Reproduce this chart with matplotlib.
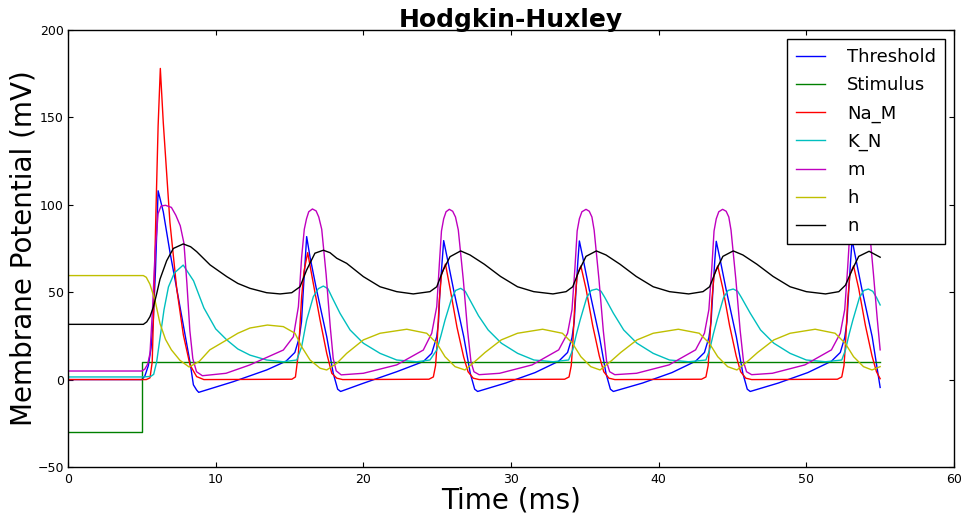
import matplotlib
matplotlib.use("Agg")
import matplotlib.pyplot as plt

# ---- data ----
t_thr = [0, 5.0, 5.2, 5.44, 5.62, 5.78, 5.92, 6.1, 6.45, 6.9, 7.36, 7.81, 8.26, 8.49, 8.71, 8.85,
         11.19, 13.45, 14.76, 15.36, 15.66, 15.81, 15.94, 16.06, 16.16, 16.39, 16.84, 17.52, 17.96, 18.26, 18.46,
         20.0, 22.26, 24.06, 24.63, 24.97, 25.09, 25.19, 25.34, 25.44, 25.67, 26.12, 26.80, 27.24, 27.54, 27.74,
         29.63, 31.63, 33.23, 33.83, 34.13, 34.28, 34.41, 34.53, 34.63, 34.86, 35.31, 35.99, 36.43, 36.73, 36.93,
         38.90, 40.90, 42.50, 43.10, 43.40, 43.55, 43.68, 43.80, 43.90, 44.13, 44.58, 45.26, 45.70, 46.00, 46.20,
         48.10, 50.10, 51.70, 52.30, 52.60, 52.75, 52.88, 53.00, 53.10, 53.33, 53.78, 54.46, 55.0]
v_thr = [0, 0, 2, 8, 18, 35, 62, 108, 96, 73, 52, 31, 10, -3, -6, -7.3,
         -1.2, 5.5, 10.5, 15.5, 24, 33, 52, 68, 81.8, 70, 51, 24.5, 3.6, -5.5, -6.8,
         -2.1, 4.5, 10.3, 15.0, 24.5, 33, 51.3, 68, 79.5, 70, 51, 24.5, 3.6, -5.5, -6.8,
         -2.0, 4.0, 10.5, 15.5, 24, 33, 52, 68, 79.3, 70, 51, 24.5, 3.6, -5.5, -6.8,
         -2.0, 4.0, 10.5, 15.5, 24, 33, 52, 68, 79.1, 70, 51, 24.5, 3.6, -5.5, -6.8,
         -2.0, 4.0, 10.5, 15.5, 24, 33, 52, 68, 80, 70, 51, 24.5, -4.5]

t_stim = [0, 5, 5, 55]
v_stim = [-30, -30, 10, 10]

t_na = [0, 5.3, 5.55, 5.7, 5.8, 5.95, 6.1, 6.25, 6.45, 6.9, 7.36, 7.81, 8.26, 8.71, 9.2,
        15.16, 15.40, 15.6, 15.82, 15.98, 16.23, 16.61, 17.07, 17.52, 17.86, 18.2, 18.6,
        24.44, 24.74, 24.89, 24.99, 25.14, 25.29, 25.56, 25.89, 26.34, 26.79, 27.09, 27.44, 27.84,
        33.63, 33.93, 34.08, 34.18, 34.33, 34.48, 34.73, 35.08, 35.53, 35.98, 36.28, 36.63, 37.03,
        42.90, 43.20, 43.35, 43.45, 43.60, 43.75, 44.00, 44.35, 44.80, 45.25, 45.55, 45.90, 46.30,
        52.10, 52.40, 52.55, 52.65, 52.80, 52.95, 53.20, 53.55, 54.00, 54.45, 54.75, 55.0]
v_na = [0, 0, 1, 10, 40, 95, 145, 178, 147, 90, 52, 25.5, 8.4, 1.7, 0,
        0.2, 1.5, 15, 47.4, 62, 72.6, 55, 34, 15, 3.6, 0.8, 0,
        0.2, 1.5, 8, 20, 45, 60, 66.1, 51.3, 30, 13, 4.5, 0.8, 0,
        0.2, 1.5, 8, 20, 45, 60, 65, 52, 31, 13.5, 4.5, 0.8, 0,
        0.2, 1.5, 8, 20, 45, 60, 65, 52, 31, 13.5, 4.5, 0.8, 0,
        0.2, 1.5, 8, 20, 45, 60, 65, 52, 31, 13.5, 4.5, 0.5]

t_k = [0, 5.0, 5.6, 5.8, 6.0, 6.25, 6.5, 6.8, 7.2, 7.8, 8.5, 9.2, 10.0, 10.75, 11.5, 12.32, 13.45, 14.58, 15.49,
       15.82, 16.16, 16.61, 16.95, 17.29, 17.6, 17.86, 18.42, 19.1, 20.0, 21.13, 22.26, 23.61, 24.51,
       24.97, 25.25, 25.53, 25.98, 26.25, 26.59, 26.9, 27.22, 27.8, 28.45, 29.35, 30.45, 31.55, 32.85, 33.9,
       34.18, 34.43, 34.68, 35.13, 35.43, 35.80, 36.1, 36.35, 36.93, 37.63, 38.53, 39.63, 40.73, 42.03, 43.2,
       43.45, 43.70, 43.95, 44.40, 44.70, 45.05, 45.35, 45.60, 46.20, 46.90, 47.80, 48.90, 50.00, 51.30, 52.40,
       52.65, 52.90, 53.15, 53.60, 53.90, 54.20, 54.50, 54.75, 55.0]
v_k = [1.5, 1.5, 1.8, 3, 10, 25, 40, 53, 61, 65.5, 56.5, 41, 29, 22.7, 17.5, 14, 11.2, 10.2, 11.2,
       18.8, 34, 47.4, 52, 53.5, 52, 47.4, 37.9, 28.4, 20.8, 15, 11.2, 10.2, 11.2,
       16.9, 25, 34, 46.5, 51, 52.2, 50.5, 45.5, 36.5, 28.4, 20.8, 15, 11.2, 10.2, 11.2,
       17, 26, 34, 47, 51, 51.8, 50.5, 47, 38, 28.4, 20.8, 15, 11.2, 10.2, 11.2,
       17, 26, 34, 47, 51, 51.8, 50.5, 47, 38, 28.4, 20.8, 15, 11.2, 10.2, 11.2,
       17, 26, 34, 47, 51, 51.8, 50.5, 47, 42.7]

t_m = [0, 5.0, 5.2, 5.4, 5.55, 5.72, 5.89, 6.1, 6.3, 6.6, 7.0, 7.3, 7.6, 7.85, 8.05, 8.25, 8.45, 8.7, 9.1,
       10.7, 12.32, 14.58, 15.26, 15.6, 15.82, 16.0, 16.15, 16.3, 16.55, 16.8, 16.98, 17.18, 17.48, 17.76, 17.96, 18.16, 18.5,
       20.0, 22.26, 24.06, 24.63, 24.97, 25.15, 25.29, 25.44, 25.6, 25.82, 26.05, 26.24, 26.43, 26.77, 27.06, 27.29, 27.49, 27.84,
       29.23, 31.43, 33.23, 33.83, 34.13, 34.33, 34.48, 34.63, 34.8, 35.08, 35.3, 35.48, 35.63, 35.96, 36.25, 36.48, 36.68, 37.03,
       38.50, 40.70, 42.50, 43.10, 43.40, 43.60, 43.75, 43.90, 44.07, 44.33, 44.57, 44.75, 44.90, 45.23, 45.52, 45.75, 45.95, 46.30,
       47.70, 49.90, 51.70, 52.30, 52.60, 52.80, 52.95, 53.20, 53.50, 53.85, 54.25, 54.55, 54.8, 55.0]
v_m = [4.9, 4.9, 6, 9, 15, 40, 72, 95, 99.3, 99.7, 98.5, 94, 88, 78, 55, 28, 12, 4.5, 2.2,
       3.6, 8.4, 16.9, 24.5, 41.7, 70, 86, 92, 96, 97.6, 96.5, 93, 86, 60, 30, 12, 5, 2.7,
       3.6, 8.4, 16.9, 26.5, 41.7, 66.5, 85, 92, 96, 97.4, 96.3, 93, 85.6, 57, 28, 10, 4.5, 2.8,
       3.6, 8.4, 17, 26.5, 40, 64, 85, 92, 96, 97.4, 96.3, 93, 85.5, 57, 28, 10, 4.5, 2.8,
       3.6, 8.4, 17, 26.5, 40, 64, 85, 92, 96, 97.4, 96.3, 93, 85.5, 57, 28, 10, 4.5, 2.8,
       3.6, 8.4, 17, 26.5, 40, 64, 85, 95, 97.4, 93, 88, 60, 35, 17]

t_h = [0, 5.1, 5.3, 5.55, 5.9, 6.23, 6.6, 7.0, 7.58, 8.2, 8.9, 9.6, 10.75, 11.5, 12.32, 13.5, 14.58, 15.37,
       15.82, 16.39, 17.07, 17.52, 18.2, 18.87, 20.0, 21.13, 22.94, 24.29, 24.97, 25.53, 26.21, 26.88, 27.67,
       28.24, 29.34, 30.44, 32.14, 33.48, 34.16, 34.73, 35.40, 36.03, 36.83, 37.43, 38.53, 39.63, 41.33, 42.75,
       43.43, 44.00, 44.67, 45.30, 46.10, 46.70, 47.80, 48.90, 50.60, 51.95, 52.63, 53.20, 53.87, 54.45, 55.0]
v_h = [59.5, 59.5, 58.5, 54.5, 45, 32, 23, 17, 11, 7.2, 10.5, 17, 22.7, 26.5, 29.5, 31.2, 30.3, 26.5,
       18.8, 11.2, 6.5, 5.5, 9.3, 15, 22.7, 26.5, 28.8, 26.5, 20.8, 13.1, 7.4, 5.5, 11.2,
       15.5, 22.7, 26.5, 28.8, 26.5, 20.8, 13.1, 7.4, 5.5, 11, 15.5, 22.7, 26.5, 28.8, 26.5,
       20.8, 13.1, 7.4, 5.5, 11, 15.5, 22.7, 26.5, 28.8, 26.5, 20.8, 13.1, 7.4, 5.5, 7.4]

t_n = [0, 5.1, 5.33, 5.55, 5.78, 6.0, 6.23, 6.68, 7.13, 7.8, 8.3, 8.71, 9.62, 10.75, 11.5, 12.32, 13.45, 14.36,
       15.15, 15.71, 16.16, 16.72, 17.29, 17.74, 18.2, 18.87, 20.0, 21.13, 22.26, 23.38, 24.51, 24.97, 25.41,
       25.87, 26.59, 27.22,
       28.19, 29.29, 30.44, 31.54, 32.84, 33.73, 34.18, 34.63, 35.08, 35.78, 36.43, 37.38, 38.48, 39.63, 40.73,
       42.03, 43.00, 43.45, 43.90, 44.35, 45.05, 45.70, 46.65, 47.75, 48.90, 50.00, 51.30, 52.20, 52.65, 53.10,
       53.55, 54.25, 55.0]
v_n = [31.6, 31.6, 33, 36, 41.5, 49, 57.5, 68, 75, 77.6, 76, 73.2, 65.6, 58.9, 55, 52.2, 49.7, 49,
       49.7, 53.1, 62.7, 72.3, 74, 72.6, 69.4, 66.5, 58.9, 53.1, 50.3, 49, 50.3, 53.1, 62.7,
       70.3, 73.6, 71.3,
       66, 59, 53.1, 50.3, 49, 50.3, 53.1, 62.7, 70.5, 73.6, 71.3, 66, 59, 53.1, 50.3,
       49, 50.3, 53.1, 62.7, 70.5, 73.6, 71.3, 66, 59, 53.1, 50.3, 49, 50.3, 54, 62.7,
       70.5, 73.4, 70]

series = [
    ("Threshold", t_thr, v_thr, (0, 0, 1)),
    ("Stimulus", t_stim, v_stim, (0, 0.5, 0)),
    ("Na_M", t_na, v_na, (1, 0, 0)),
    ("K_N", t_k, v_k, (0, 0.75, 0.75)),
    ("m", t_m, v_m, (0.75, 0, 0.75)),
    ("h", t_h, v_h, (0.75, 0.75, 0)),
    ("n", t_n, v_n, (0, 0, 0)),
]

xticks = [0, 10, 20, 30, 40, 50, 60]
yticks = [-50, 0, 50, 100, 150, 200]

plt.rcParams['font.family'] = ['DejaVu Sans']
fig = plt.figure(figsize=(9.61, 5.16), dpi=100)
ax = fig.add_axes([0.0708, 0.0950, 0.9219, 0.8469])

for label, t, v, c in series:
    ax.plot(t, v, color=c, lw=1.0, label=label, solid_joinstyle='round')

ax.set_xlim(0, 60)
ax.set_ylim(-50, 200)
ax.set_xticks(xticks)
ax.set_yticks(yticks)
ax.tick_params(direction='in', top=True, right=True, length=3.5, width=0.8, labelsize=9)
ax.tick_params(axis='x', pad=4)
ax.tick_params(axis='y', pad=3)
for s in ax.spines.values():
    s.set_linewidth(1.0)
    s.set_color('black')

ax.set_title("Hodgkin-Huxley", fontsize=18, fontweight='bold', pad=2)
ax.set_xlabel("Time (ms)", fontsize=20, labelpad=1)
ax.set_ylabel("Membrane Potential (mV)", fontsize=20, labelpad=0)

leg = ax.legend(loc='upper right', fontsize=13, frameon=True, fancybox=False,
                edgecolor='black', framealpha=1.0, handlelength=1.6, handletextpad=1.2,
                borderpad=0.5, labelspacing=0.56, borderaxespad=0.5)
leg.get_frame().set_linewidth(1.0)

fig.savefig("out.png", dpi=100, facecolor='white')
